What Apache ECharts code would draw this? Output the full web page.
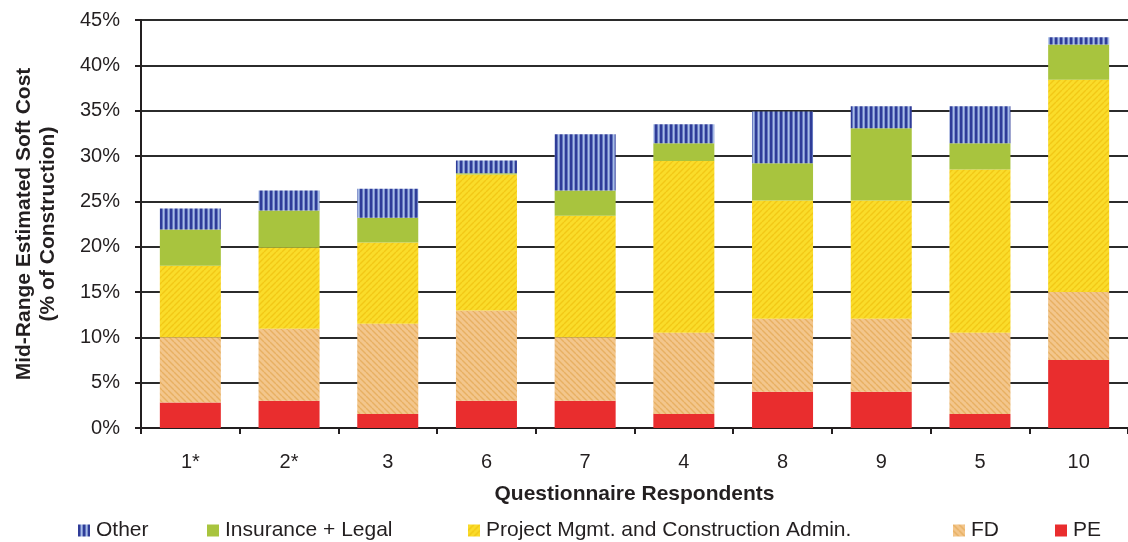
<!DOCTYPE html>
<html>
<head>
<meta charset="utf-8">
<script src="https://cdn.jsdelivr.net/npm/echarts@6/dist/echarts.min.js"></script>
<style>
html,body{margin:0;padding:0;background:#fff;}
#chart{width:1128px;height:542px;}
</style>
</head>
<body>
<div id="chart"></div>
<script>
const categories = ['1*', '2*', '3', '6', '7', '4', '8', '9', '5', '10'];
const pe    = [2.8, 3.0, 1.55, 3.0, 3.0, 1.55, 4.0, 4.0, 1.55, 7.5];
const fd    = [7.2, 7.95, 9.95, 9.95, 7.0, 8.95, 8.05, 8.05, 8.95, 7.5];
const pm    = [7.9, 8.95, 8.95, 15.0, 13.4, 18.95, 13.05, 13.05, 18.0, 23.4];
const ins   = [4.0, 4.1, 2.75, 0.15, 2.8, 1.95, 4.1, 7.95, 2.9, 3.9];
const other = [2.3, 2.2, 3.2, 1.4, 6.2, 2.1, 5.7, 2.45, 4.1, 0.8];
const yTicks = [0, 5, 10, 15, 20, 25, 30, 35, 40, 45];
const seriesNames = ['PE', 'FD', 'Project Mgmt. and Construction Admin.', 'Insurance + Legal', 'Other'];

function makePattern(w, h, draw) {
  const c = document.createElement('canvas');
  c.width = w; c.height = h;
  const ctx = c.getContext('2d');
  draw(ctx, w, h);
  return { image: c, repeat: 'repeat' };
}
const stripesBlue = makePattern(5, 4, (ctx) => {
  ctx.fillStyle = '#a9bde6'; ctx.fillRect(0, 0, 5, 4);
  ctx.fillStyle = '#2f3c98'; ctx.fillRect(0, 0, 2, 4);
  ctx.fillStyle = '#6478c0'; ctx.fillRect(2, 0, 1, 4);
  ctx.fillStyle = '#7d91cf'; ctx.fillRect(4, 0, 1, 4);
});
function diag(base, line, dir) {
  return makePattern(6, 6, (ctx, w, h) => {
    ctx.fillStyle = base; ctx.fillRect(0, 0, w, h);
    ctx.strokeStyle = line; ctx.lineWidth = 1.4;
    for (let k = -2; k <= 2; k++) {
      ctx.beginPath();
      if (dir > 0) { ctx.moveTo(k * 6, 6); ctx.lineTo(k * 6 + 6, 0); }
      else { ctx.moveTo(k * 6, 0); ctx.lineTo(k * 6 + 6, 6); }
      ctx.stroke();
    }
  });
}
const yellowHatch = diag('#fadc2a', '#f2c816', 1);
const orangeHatch = diag('#f3c68c', '#e8b062', -1);

const colors = ['#e92d2e', orangeHatch, yellowHatch, '#a8c43e', stripesBlue];
const dataSets = [pe, fd, pm, ins, other];

const font = '"Liberation Sans", Arial, Helvetica, sans-serif';
const textColor = '#231f20';

const legendLefts = [1055, 953, 468, 207, 78];
const legends = seriesNames.map((n, i) => ({
  data: [n],
  left: legendLefts[i],
  top: 520,
  itemWidth: 12,
  itemHeight: 12,
  itemGap: 0,
  icon: 'rect',
  padding: 0,
  selectedMode: false,
  textStyle: { fontFamily: font, fontSize: 21, color: textColor, padding: [0, 0, 0, 1] }
}));

const chart = echarts.init(document.getElementById('chart'), null, { renderer: 'canvas' });
chart.setOption({
  animation: false,
  backgroundColor: '#ffffff',
  textStyle: { fontFamily: font },
  legend: legends,
  grid: { left: 141, top: 20, width: 997, height: 408, containLabel: false },
  xAxis: {
    type: 'category',
    data: categories,
    boundaryGap: true,
    name: 'Questionnaire Respondents',
    nameLocation: 'middle',
    nameGap: 56,
    nameTextStyle: { fontFamily: font, fontSize: 21, fontWeight: 'bold', color: textColor },
    axisLine: { lineStyle: { color: textColor, width: 2 } },
    axisTick: { show: true, inside: false, length: 6, lineStyle: { color: textColor, width: 2 } },
    axisLabel: { margin: 24, fontFamily: font, fontSize: 20, color: textColor }
  },
  yAxis: {
    type: 'value',
    min: yTicks[0],
    max: yTicks[yTicks.length - 1],
    interval: 5,
    name: 'Mid-Range Estimated Soft Cost\n(% of Construction)',
    nameLocation: 'middle',
    nameRotate: 90,
    nameGap: 81,
    nameTextStyle: { fontFamily: font, fontSize: 21, fontWeight: 'bold', color: textColor, lineHeight: 24 },
    axisLine: { show: true, lineStyle: { color: textColor, width: 2 } },
    axisTick: { show: true, inside: false, length: 6, lineStyle: { color: textColor, width: 2 } },
    axisLabel: { margin: 21, fontFamily: font, fontSize: 20, color: textColor, formatter: v => v + '%' },
    splitLine: { show: true, lineStyle: { color: '#2b2b2b', width: 2 } }
  },
  series: dataSets.map((d, i) => ({
    name: seriesNames[i],
    type: 'bar',
    stack: 'total',
    barWidth: 61,
    data: d,
    itemStyle: { color: colors[i] }
  }))
});
</script>
</body>
</html>
